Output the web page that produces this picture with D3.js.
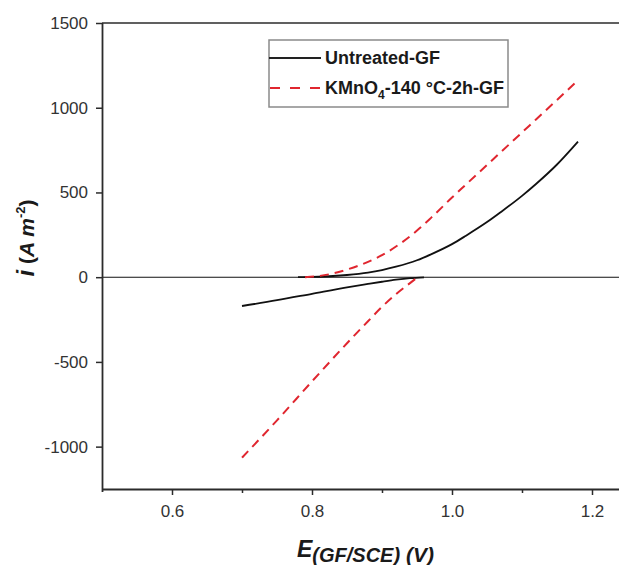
<!DOCTYPE html>
<html>
<head>
<meta charset="utf-8">
<script src="https://cdn.jsdelivr.net/npm/d3@7"></script>
<style>
  html, body { margin: 0; padding: 0; background: #fff; }
  svg { display: block; }
  text { font-family: Arial, "Liberation Sans", sans-serif; }
</style>
</head>
<body>
<svg id="chart" width="619" height="565"></svg>
<script>
// Polarisation curves: potential E (V vs SCE) against current density i (A m^-2)
const xTicks = [0.6, 0.8, 1.0, 1.2];
const xMinorTicks = [0.7, 0.9, 1.1];
const yTicks = [-1000, -500, 0, 500, 1000, 1500];

const seriesNames = ["Untreated-GF", "KMnO4-140 °C-2h-GF"];

// Untreated-GF: cathodic and anodic branches
const untreatedCathodic = [
  [0.70, -170], [0.75, -136], [0.80, -98], [0.85, -60], [0.88, -40],
  [0.90, -27], [0.92, -15], [0.94, -6], [0.96, -1]
];
const untreatedAnodic = [
  [0.78, 0], [0.80, 2], [0.83, 7], [0.85, 13], [0.88, 27], [0.90, 42],
  [0.92, 62], [0.95, 100], [0.97, 135], [1.00, 195], [1.02, 245],
  [1.05, 325], [1.07, 385], [1.10, 480], [1.12, 550], [1.15, 665], [1.18, 800]
];

// KMnO4-140 °C-2h-GF: cathodic and anodic branches
const kmnoCathodic = [
  [0.70, -1065], [0.75, -845], [0.80, -615], [0.85, -390], [0.88, -260],
  [0.90, -175], [0.92, -100], [0.94, -35], [0.95, -3]
];
const kmnoAnodic = [
  [0.79, 0], [0.81, 7], [0.83, 22], [0.85, 45], [0.88, 90], [0.90, 130],
  [0.925, 195], [0.95, 275], [0.97, 350], [1.00, 470], [1.02, 547],
  [1.05, 662], [1.07, 739], [1.10, 854], [1.12, 931], [1.15, 1046], [1.177, 1150]
];

const svg = d3.select("#chart");
const mLeft = 102, mRight = 620, mTop = 23, mBottom = 489;

const x = d3.scaleLinear().domain([0.5, 1.24]).range([mLeft, mRight]);
const y = d3.scaleLinear().domain([-1250, 1500]).range([mBottom, mTop]);

const axisColor = "#2b2b2b";
const labelColor = "#333";

// frame top line and zero line
svg.append("line").attr("x1", mLeft).attr("x2", mRight).attr("y1", y(1500)).attr("y2", y(1500))
  .attr("stroke", axisColor).attr("stroke-width", 1.6);
svg.append("line").attr("x1", mLeft).attr("x2", mRight).attr("y1", y(0)).attr("y2", y(0))
  .attr("stroke", "#111").attr("stroke-width", 1.1);

// x axis
const xAxis = svg.append("g").attr("transform", `translate(0,${mBottom})`)
  .call(d3.axisBottom(x).tickValues(xTicks).tickFormat(d3.format(".1f")).tickSize(6).tickPadding(10));
const xMinor = svg.append("g").attr("transform", `translate(0,${mBottom})`)
  .call(d3.axisBottom(x).tickValues(xMinorTicks).tickFormat("").tickSize(4));
xMinor.select(".domain").remove();

// y axis (plain hyphen for negative values)
const yAxis = svg.append("g").attr("transform", `translate(${mLeft},0)`)
  .call(d3.axisLeft(y).tickValues(yTicks).tickFormat(d => String(d)).tickSize(6).tickPadding(8));

[xAxis, yAxis, xMinor].forEach(g => {
  g.selectAll(".domain").attr("stroke", axisColor).attr("stroke-width", 1.8);
  g.selectAll(".tick line").attr("stroke", axisColor).attr("stroke-width", 1.5);
  g.selectAll(".tick text").attr("fill", labelColor).attr("font-size", 17)
    .attr("font-family", "Arial, 'Liberation Sans', sans-serif");
});
yAxis.select(".domain").attr("d", `M0.5,${mTop}V${mBottom + 3}`);
xAxis.select(".domain").attr("d", `M${mLeft},0.5H${mRight}`);

// curves
const line = d3.line().x(d => x(d[0])).y(d => y(d[1])).curve(d3.curveMonotoneX);

const blackStyle = { stroke: "#111", width: 1.8, dash: null };
const redStyle = { stroke: "#e0262f", width: 2, dash: "9,6" };

[[untreatedCathodic, blackStyle], [untreatedAnodic, blackStyle],
 [kmnoCathodic, redStyle], [kmnoAnodic, redStyle]].forEach(([data, s]) => {
  svg.append("path").datum(data).attr("d", line)
    .attr("fill", "none").attr("stroke", s.stroke).attr("stroke-width", s.width)
    .attr("stroke-dasharray", s.dash);
});

// legend
const lg = svg.append("g");
lg.append("rect").attr("x", 269).attr("y", 40).attr("width", 239).attr("height", 67)
  .attr("fill", "#fff").attr("stroke", "#8a8a8a").attr("stroke-width", 1.5);
lg.append("line").attr("x1", 269).attr("x2", 321).attr("y1", 58).attr("y2", 58)
  .attr("stroke", "#222").attr("stroke-width", 1.8);
lg.append("line").attr("x1", 270).attr("x2", 322).attr("y1", 88).attr("y2", 88)
  .attr("stroke", redStyle.stroke).attr("stroke-width", 2).attr("stroke-dasharray", "10,10");
lg.append("text").attr("x", 325).attr("y", 64).attr("font-size", 18).attr("font-weight", "bold")
  .attr("fill", "#1a1a1a").text(seriesNames[0]);
const t2 = lg.append("text").attr("x", 325).attr("y", 94).attr("font-size", 18)
  .attr("font-weight", "bold").attr("fill", "#1a1a1a");
t2.append("tspan").text("KMnO");
t2.append("tspan").attr("font-size", 12).attr("dy", 5).text("4");
t2.append("tspan").attr("dy", -5).text("-140 °C-2h-GF");

// axis titles
const xt = svg.append("text").attr("x", 297).attr("y", 557).attr("font-weight", "bold")
  .attr("font-style", "italic").attr("fill", "#1a1a1a");
xt.append("tspan").attr("font-size", 23).text("E");
xt.append("tspan").attr("font-size", 20).attr("dy", 5).text("(GF/SCE)");
xt.append("tspan").attr("font-size", 21).text(" (V)");

const yt = svg.append("text").attr("transform", "translate(34,238) rotate(-90)")
  .attr("text-anchor", "middle").attr("font-weight", "bold").attr("fill", "#1a1a1a");
yt.append("tspan").attr("font-size", 24).attr("font-style", "italic").text("i");
yt.append("tspan").attr("font-size", 21).text(" (");
yt.append("tspan").attr("font-size", 21).attr("font-style", "italic").text("A m");
yt.append("tspan").attr("font-size", 13).attr("dy", -9).text("-2");
yt.append("tspan").attr("font-size", 21).attr("dy", 9).text(")");
</script>
</body>
</html>
